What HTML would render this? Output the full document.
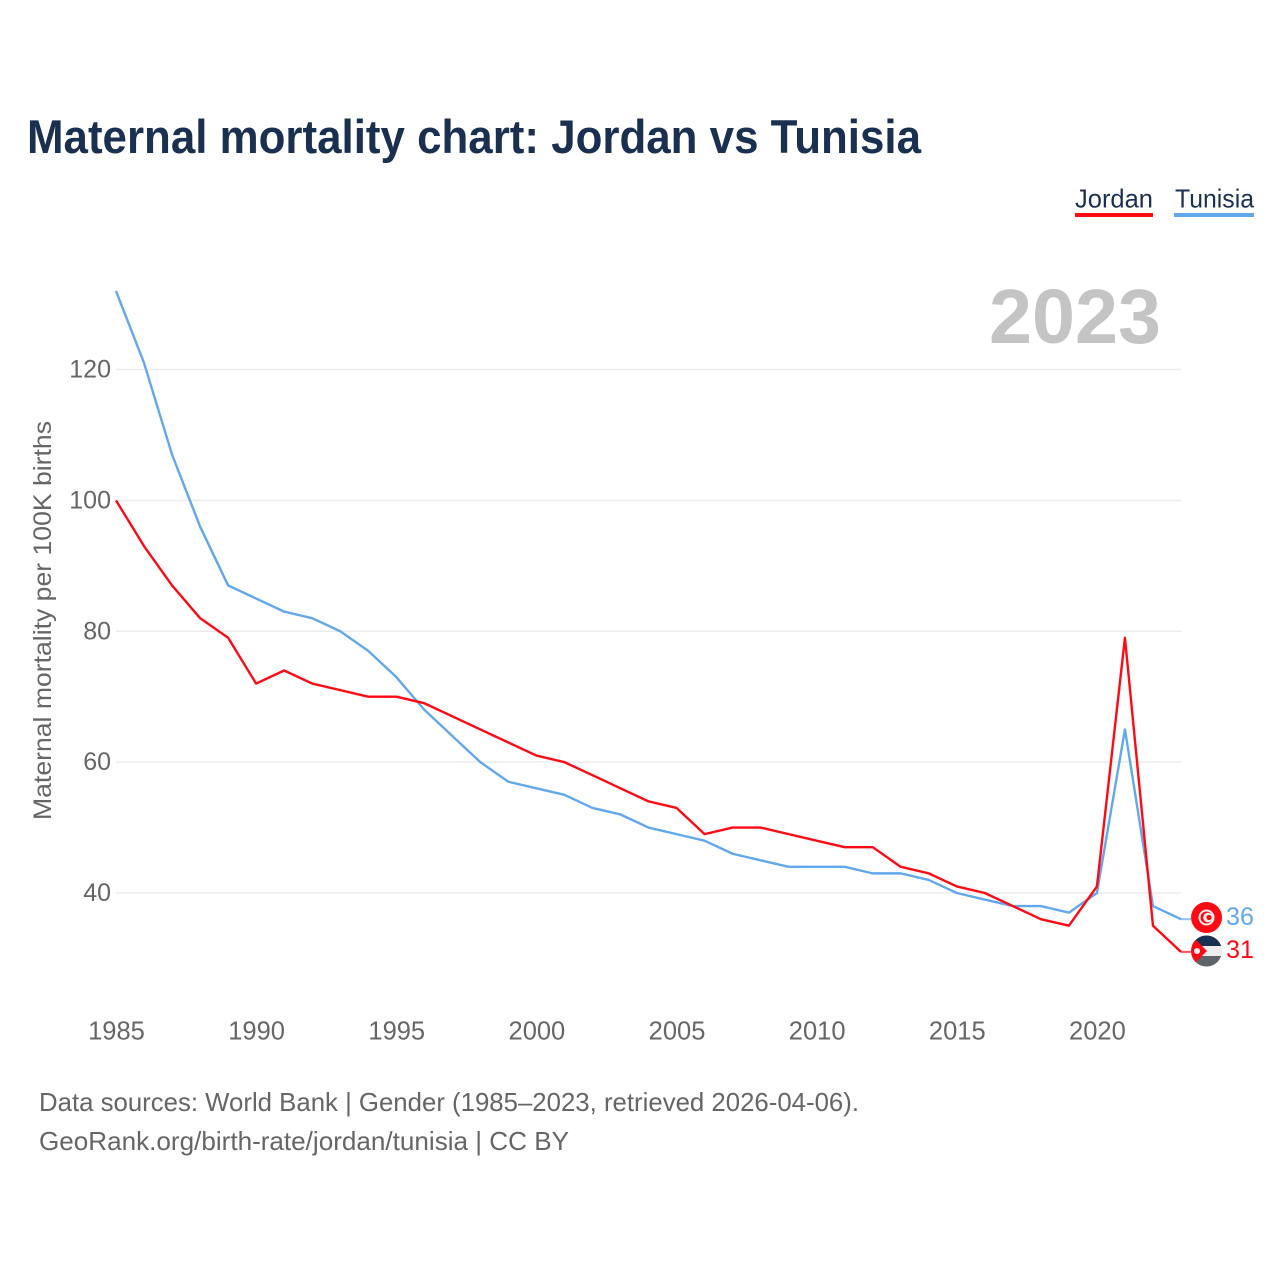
<!DOCTYPE html>
<html lang="en">
<head>
<meta charset="utf-8">
<title>Maternal mortality chart: Jordan vs Tunisia</title>
<style>
html,body{margin:0;padding:0;background:#fff;}
svg{display:block;font-family:"Liberation Sans",sans-serif;}
</style>
</head>
<body>
<svg id="chart" xmlns="http://www.w3.org/2000/svg" width="1280" height="1280" viewBox="0 0 1280 1280">
  <defs>
    <clipPath id="flag-clip-jordan"><circle cx="1206.5" cy="951" r="15.5"/></clipPath>
  </defs>
  <rect x="0" y="0" width="1280" height="1280" fill="#fff"/>
  <text x="27" y="153" font-size="47" font-weight="700" fill="#1a3050" textLength="894" lengthAdjust="spacingAndGlyphs">Maternal mortality chart: Jordan vs Tunisia</text>

  <g>
    <g>
      <text x="1075" y="207.5" font-size="26" fill="#1a3050" textLength="78" lengthAdjust="spacingAndGlyphs">Jordan</text>
      <rect x="1075" y="213" width="78" height="4" fill="#ff0a14"/>
    </g>
    <g>
      <text x="1175" y="207.5" font-size="26" fill="#1a3050" textLength="79" lengthAdjust="spacingAndGlyphs">Tunisia</text>
      <rect x="1174" y="213" width="80" height="4" fill="#62a8ec"/>
    </g>
  </g>

  <text x="989" y="343" font-size="77" font-weight="700" fill="#c4c4c4" textLength="172" lengthAdjust="spacingAndGlyphs">2023</text>

  <g id="grid"></g>
  <g id="y-ticks"></g>
  <g id="x-ticks"></g>
  <text transform="translate(51 820) rotate(-90)" font-size="25" fill="#666" textLength="399" lengthAdjust="spacingAndGlyphs">Maternal mortality per 100K births</text>

  <g id="series"></g>

  <g id="flag-tunisia">
    <circle cx="1206.5" cy="917.5" r="15.5" fill="#ff0a14"/>
    <circle cx="1206.5" cy="917.5" r="8" fill="#f4f0f0"/>
    <circle cx="1206.5" cy="917.5" r="6" fill="#ff0a14"/>
    <circle cx="1208" cy="917.5" r="4.8" fill="#f4f0f0"/>
    <circle cx="1209" cy="917.5" r="2.6" fill="#ff0a14"/>
  </g>
  <g id="flag-jordan" clip-path="url(#flag-clip-jordan)">
    <rect x="1191" y="935" width="31" height="11" fill="#1a3050"/>
    <rect x="1191" y="946" width="31" height="10" fill="#eeeeee"/>
    <rect x="1191" y="956" width="31" height="11" fill="#5f6468"/>
    <polygon points="1191,935 1191,967 1207,951" fill="#ff0a14"/>
    <circle cx="1197" cy="951" r="3" fill="#f4f0f0"/>
  </g>

  <text id="end-value-tunisia" x="1226" y="925" font-size="25" fill="#62a8ec" textLength="28" lengthAdjust="spacingAndGlyphs">36</text>
  <text id="end-value-jordan" x="1226" y="958" font-size="25" fill="#ff0a14" textLength="28" lengthAdjust="spacingAndGlyphs">31</text>

  <g>
    <text x="39" y="1111" font-size="26" fill="#666" textLength="820" lengthAdjust="spacingAndGlyphs">Data sources: World Bank | Gender (1985–2023, retrieved 2026-04-06).</text>
    <text x="39" y="1150" font-size="26" fill="#666" textLength="530" lengthAdjust="spacingAndGlyphs">GeoRank.org/birth-rate/jordan/tunisia | CC BY</text>
  </g>
</svg>

<script>
const years = [1985,1986,1987,1988,1989,1990,1991,1992,1993,1994,1995,1996,1997,1998,1999,2000,2001,2002,2003,2004,2005,2006,2007,2008,2009,2010,2011,2012,2013,2014,2015,2016,2017,2018,2019,2020,2021,2022,2023];
const jordanValues = [100,93,87,82,79,72,74,72,71,70,70,69,67,65,63,61,60,58,56,54,53,49,50,50,49,48,47,47,44,43,41,40,38,36,35,41,79,35,31];
const tunisiaValues = [132,121,107,96,87,85,83,82,80,77,73,68,64,60,57,56,55,53,52,50,49,48,46,45,44,44,44,43,43,42,40,39,38,38,37,40,65,38,36];
const yTickValues = [40,60,80,100,120];
const xTickValues = [1985,1990,1995,2000,2005,2010,2015,2020];

const NS = 'http://www.w3.org/2000/svg';
function xScale(year){ return 116 + (year - 1985) * (1181 - 116) / (2023 - 1985); }
function yScale(value){ return 893 - (value - 40) * (893 - 369.5) / (120 - 40); }

const gridLayer = document.getElementById('grid');
const yTickLayer = document.getElementById('y-ticks');
const xTickLayer = document.getElementById('x-ticks');
const seriesLayer = document.getElementById('series');

yTickValues.forEach(function(v){
  const line = document.createElementNS(NS,'line');
  
  
  line.setAttribute('x1', xScale(1985));
  line.setAttribute('x2', xScale(2023));
  line.setAttribute('y1', yScale(v));
  line.setAttribute('y2', yScale(v));
  line.setAttribute('stroke', '#ececec');
  line.setAttribute('stroke-width', '1.5');
  gridLayer.appendChild(line);

  const label = document.createElementNS(NS,'text');
  
  
  label.setAttribute('x', 111);
  label.setAttribute('y', yScale(v) + 8);
  label.setAttribute('text-anchor', 'end');
  label.setAttribute('font-size', '25');
  label.setAttribute('fill', '#666');
  label.textContent = String(v);
  yTickLayer.appendChild(label);
});

xTickValues.forEach(function(y){
  const label = document.createElementNS(NS,'text');
  
  
  label.setAttribute('x', xScale(y) + 0.5);
  label.setAttribute('y', 1039.5);
  label.setAttribute('text-anchor', 'middle');
  label.setAttribute('font-size', '25.5');
  label.setAttribute('fill', '#666');
  label.textContent = String(y);
  xTickLayer.appendChild(label);
});

function drawSeries(values, color, seriesName){
  const pts = values.map(function(v, i){ return xScale(years[i]).toFixed(2) + ',' + yScale(v).toFixed(2); });
  const line = document.createElementNS(NS,'polyline');
  
  
  line.setAttribute('points', pts.join(' '));
  line.setAttribute('fill', 'none');
  line.setAttribute('stroke', color);
  line.setAttribute('stroke-width', '2.4');
  line.setAttribute('stroke-linejoin', 'round');
  seriesLayer.appendChild(line);

  const last = values.length - 1;
  const connector = document.createElementNS(NS,'line');
  
  
  connector.setAttribute('x1', xScale(years[last]));
  connector.setAttribute('x2', xScale(years[last]) + 10);
  connector.setAttribute('y1', yScale(values[last]));
  connector.setAttribute('y2', yScale(values[last]));
  connector.setAttribute('stroke', color);
  connector.setAttribute('stroke-opacity', '0.7');
  connector.setAttribute('stroke-width', '2');
  seriesLayer.appendChild(connector);
}
drawSeries(tunisiaValues, '#62a8ec', 'tunisia');
drawSeries(jordanValues, '#ff0a14', 'jordan');

document.getElementById('end-value-tunisia').textContent = String(tunisiaValues[tunisiaValues.length - 1]);
document.getElementById('end-value-jordan').textContent = String(jordanValues[jordanValues.length - 1]);
</script>
</body>
</html>
